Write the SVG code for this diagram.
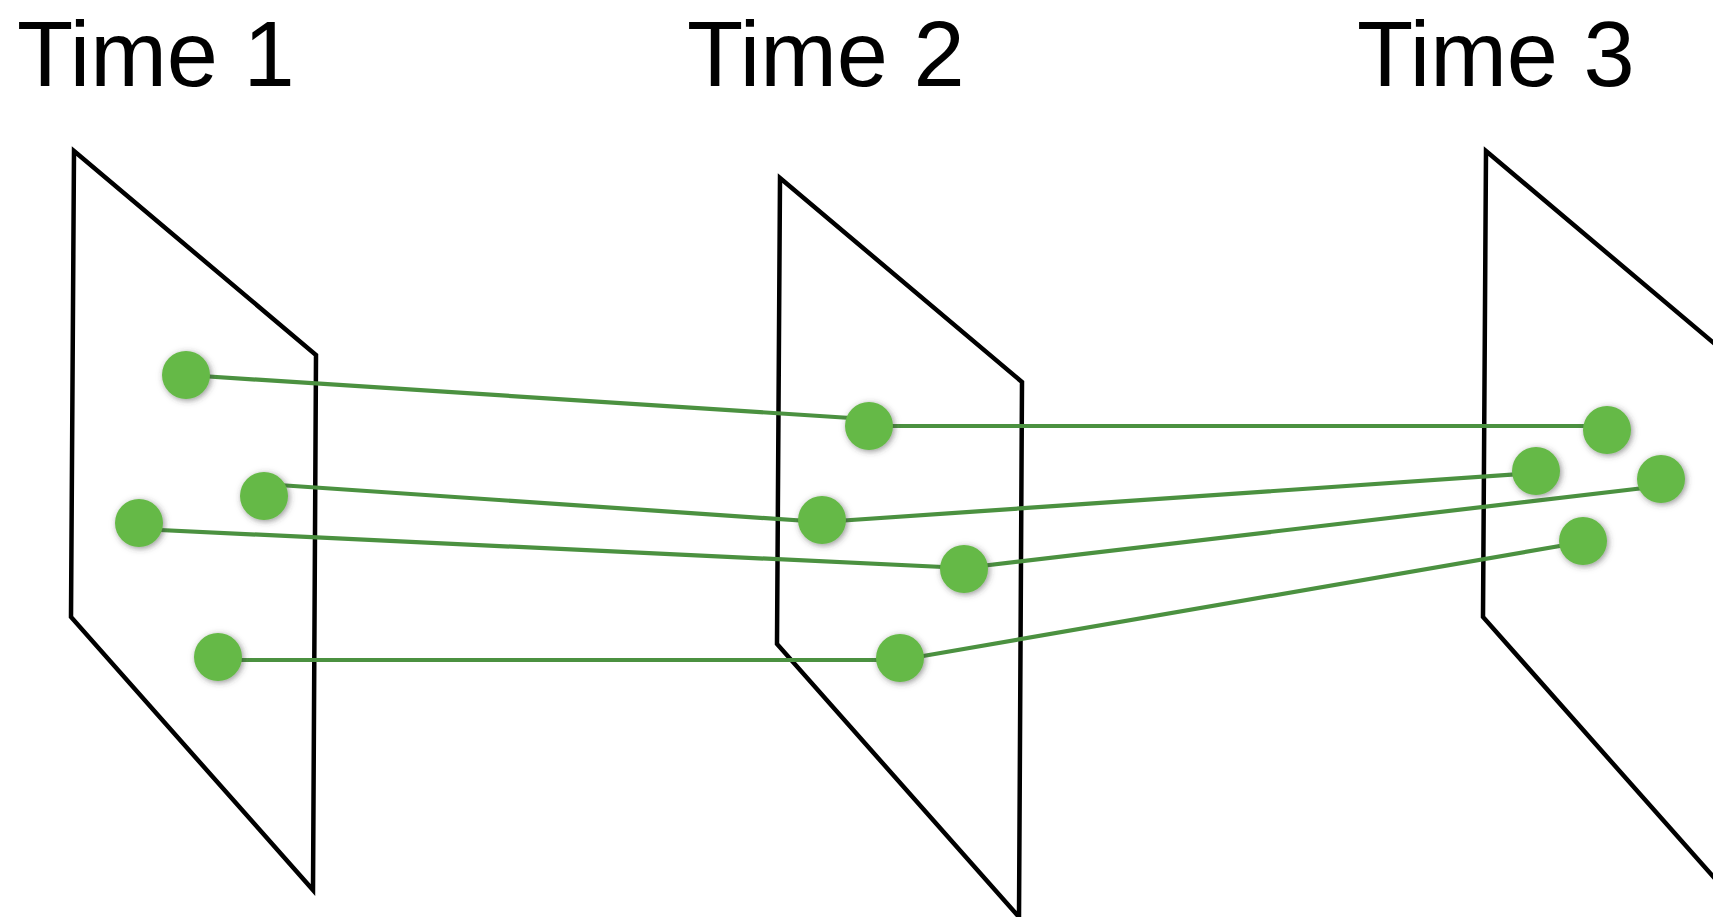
<svg xmlns="http://www.w3.org/2000/svg" width="1713" height="917" viewBox="0 0 1713 917">
<style>
.label{font-family:"Liberation Sans",Arial,sans-serif;font-size:92px;fill:#000}
.plane{fill:none;stroke:#000;stroke-width:4.5;stroke-linejoin:miter}
.link{fill:none;stroke:#4b9140;stroke-width:4.2}
.dot{fill:#65b946;filter:url(#sh)}
</style>
<defs>
<filter id="sh" x="-50%" y="-50%" width="200%" height="200%">
<feDropShadow dx="1.5" dy="1.5" stdDeviation="3" flood-color="#3a3a3a" flood-opacity="0.55"/>
</filter>
</defs>
<g id="titles">
<text class="label" x="17" y="86">Time 1</text>
<text class="label" x="687" y="86">Time 2</text>
<text class="label" x="1357" y="86">Time 3</text>
</g>
<g id="plane1"><polygon class="plane" points="74,151 316,355 313,890 71,617"/></g>
<g id="plane2"><polygon class="plane" points="780,178 1022,382 1019,917 777,644"/></g>
<g id="plane3"><polygon class="plane" points="1486,151 1728,355 1725,890 1483,617"/></g>
<g id="connectors">
<path class="link" d="M186,375 L866,419 M869,426 L1606,426"/>
<polyline class="link" points="264,484 822,522 1536,473"/>
<polyline class="link" points="139,529 964,568 1661,486"/>
<polyline class="link" points="218,660 900,660 1583,542"/>
</g>
<g id="dots1">
<circle class="dot" cx="186" cy="375" r="24"/>
<circle class="dot" cx="264" cy="496" r="24"/>
<circle class="dot" cx="139" cy="523" r="24"/>
<circle class="dot" cx="218" cy="657" r="24"/>
</g>
<g id="dots2">
<circle class="dot" cx="869" cy="426" r="24"/>
<circle class="dot" cx="822" cy="520" r="24"/>
<circle class="dot" cx="964" cy="569" r="24"/>
<circle class="dot" cx="900" cy="658" r="24"/>
</g>
<g id="dots3">
<circle class="dot" cx="1607" cy="430" r="24"/>
<circle class="dot" cx="1536" cy="471" r="24"/>
<circle class="dot" cx="1661" cy="479" r="24"/>
<circle class="dot" cx="1583" cy="541" r="24"/>
</g>
</svg>
